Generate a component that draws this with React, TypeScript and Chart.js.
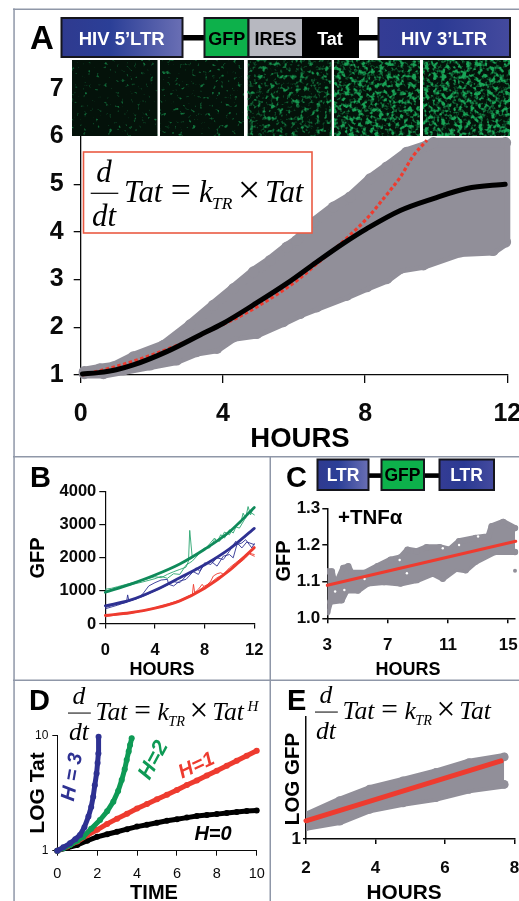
import React, { useEffect, useRef } from "react";
import { Chart, registerables } from "chart.js";
Chart.register(...registerables);

const SANS = '"Liberation Sans", Arial, sans-serif';
const SERIF = '"Liberation Serif", serif';
const GRAY = "#918f99";
const RED = "#ee3b2f";
const GREEN = "#0f8a5a";
const GREEN_THIN = "#2aa56f";
const GREEN_D = "#0e9a55";
const BLUE = "#2e3192";
const INK = "#0a0a0a";

// Panel A
const aBlackT = [0.05, 0.5, 1, 1.48, 2.42, 3.36, 4, 4.86, 5.8, 6.64, 7.39, 8.05, 8.99, 9.92, 10.86, 11.94];
const aBlackV = [1.02, 1.05, 1.11, 1.21, 1.49, 1.84, 2.08, 2.47, 2.92, 3.37, 3.76, 4.07, 4.45, 4.7, 4.91, 5.0];
const aRedT = [0.05, 1, 2, 3, 4, 4.4, 5.5, 6.2, 6.64, 7.11, 7.6, 8.05, 8.52, 8.99, 9.36, 9.74];
const aRedV = [1.0, 1.18, 1.42, 1.71, 2.06, 2.2, 2.68, 3.05, 3.33, 3.62, 3.95, 4.28, 4.7, 5.15, 5.6, 5.92];
const aUpT = [0.1, 0.54, 0.92, 1.48, 2.33, 3.08, 3.73, 4.3, 4.86, 5.33, 5.8, 6.08, 6.55, 7.11, 7.58, 8.14, 8.61, 9.17, 9.74, 9.92, 11.95];
const aUpV = [1.07, 1.13, 1.17, 1.38, 1.62, 2.05, 2.46, 2.81, 3.16, 3.4, 3.68, 3.82, 4.2, 4.52, 4.73, 5.11, 5.36, 5.67, 5.81, 5.87, 5.87];
const aLoT = [0.1, 0.64, 1.2, 1.95, 2.7, 3.26, 3.83, 4.3, 4.95, 5.7, 6.17, 6.64, 7.48, 8.05, 8.61, 8.99, 9.64, 10.67, 11.6, 11.95];
const aLoV = [1.03, 1.03, 1.105, 1.21, 1.315, 1.49, 1.56, 1.8, 1.87, 2.12, 2.29, 2.43, 2.67, 2.85, 3.02, 3.23, 3.31, 3.58, 3.61, 3.79];
const aEdgeT = [12.0, 12.0];
const aEdgeV = [3.79, 5.87];

// Panel B
const bFitT = [0, 2, 4, 6, 8, 10, 12];
const bGreenFit = [960, 1200, 1480, 1815, 2260, 2790, 3520];
const bBlueFit = [550, 720, 1020, 1400, 1790, 2270, 2890];
const bRedFit = [260, 340, 480, 700, 1080, 1620, 2310];
const bGreen1T = [0, 0.5, 1, 2, 3, 4, 4.5, 5, 5.5, 6, 6.5, 6.7, 6.8, 7, 7.2, 7.5, 8, 8.4, 8.8, 9, 9.3, 9.6, 10, 10.3, 10.6, 10.9, 11.1, 11.3, 11.5, 11.7, 11.9];
const bGreen1V = [1050, 1080, 1130, 1230, 1320, 1430, 1400, 1500, 1580, 1650, 1720, 1900, 2830, 2020, 2050, 2150, 2250, 2420, 2600, 2480, 2700, 2600, 2850, 2750, 3000, 3050, 3350, 3200, 3550, 3300, 3500];
const bGreen2T = [0, 0.5, 1, 2, 3, 4, 4.5, 5, 5.5, 6, 6.5, 7, 7.5, 8, 8.4, 8.8, 9.2, 9.6, 10, 10.4, 10.8, 11.2, 11.6, 12];
const bGreen2V = [1000, 1040, 1100, 1180, 1270, 1370, 1440, 1380, 1520, 1500, 1780, 1900, 2100, 2300, 2300, 2550, 2500, 2780, 2700, 2950, 2900, 3150, 3400, 3300];
const bBlue1T = [0, 1, 1.7, 1.8, 1.9, 2.5, 3, 3.5, 4, 4.5, 5, 5.1, 5.5, 6, 6.5, 7, 7.3, 7.6, 8, 8.5, 9, 9.5, 10, 10.3, 10.6, 11, 11.3, 11.6, 11.8, 12];
const bBlue1V = [500, 600, 650, 880, 700, 760, 900, 1150, 1250, 1330, 1350, 1200, 1150, 1300, 1350, 1550, 1700, 1600, 1800, 1900, 1750, 2050, 2100, 2000, 2400, 2450, 2550, 2400, 2300, 2430];
const bBlue2T = [0, 1, 2, 3, 4, 5, 5.5, 6, 6.5, 7, 7.5, 8, 8.5, 9, 9.5, 10, 10.5, 11, 11.4, 12];
const bBlue2V = [460, 570, 700, 830, 1000, 1180, 1280, 1250, 1450, 1600, 1500, 1850, 1800, 2000, 1950, 2200, 2500, 2300, 2480, 2400];
const bRed1T = [0, 1, 2, 3, 4, 5, 6, 6.8, 7, 7.1, 7.2, 7.5, 7.8, 8, 8.5, 8.7, 9, 9.3, 9.6, 10, 10.5, 11, 11.3, 11.6, 12];
const bRed1V = [220, 280, 320, 390, 470, 560, 680, 820, 850, 1200, 950, 1050, 1200, 1100, 1300, 1450, 1520, 1550, 1480, 1650, 1780, 1900, 2000, 2120, 2050];
const bRed2T = [0, 1, 2, 3, 4, 5, 6, 7, 7.5, 8, 8.5, 9, 9.5, 10, 10.5, 11, 11.5, 12];
const bRed2V = [270, 300, 340, 410, 490, 600, 720, 900, 1000, 1150, 1250, 1400, 1500, 1700, 1850, 2000, 2150, 2100];

// Panel C
const cTicksX = [3, 7, 11, 15];
const cUpT = [3, 3.3, 3.52, 4.06, 4.39, 4.6, 5.47, 6.33, 7.2, 7.85, 8.32, 8.93, 9.58, 10.45, 11.1, 11.74, 12.83, 13.69, 13.9, 14.67, 15.45];
const cUpV = [1.128, 1.128, 1.087, 1.137, 1.142, 1.124, 1.124, 1.142, 1.16, 1.166, 1.187, 1.183, 1.194, 1.194, 1.187, 1.21, 1.219, 1.224, 1.251, 1.263, 1.246];
const cLoT = [3, 3.19, 3.95, 4.28, 5.03, 5.68, 6.77, 7.85, 8.93, 10.01, 10.66, 11.53, 12.18, 12.83, 14.13, 15.45];
const cLoV = [1.017, 1.045, 1.049, 1.076, 1.076, 1.095, 1.099, 1.095, 1.104, 1.122, 1.108, 1.135, 1.131, 1.154, 1.181, 1.181];
const cStrayT = [15.45];
const cStrayV = [1.13];
const cGapT = [3.52, 4.13, 5.47, 7.8, 8.28, 10.66, 11.74, 13];
const cGapV = [1.073, 1.077, 1.107, 1.159, 1.123, 1.191, 1.2, 1.223];
const cRedT = [3, 15.5];
const cRedV = [1.09, 1.21];

// Panel D
const dBlackT = [0, 0.5, 1, 1.5, 2, 2.5, 3, 3.5, 4, 4.5, 5, 5.5, 6, 6.5, 7, 7.5, 8, 8.5, 9, 9.5, 10];
const dBlackV = [1, 1.06, 1.12, 1.22, 1.32, 1.39, 1.46, 1.54, 1.62, 1.68, 1.75, 1.82, 1.88, 1.94, 2.0, 2.04, 2.08, 2.13, 2.17, 2.21, 2.24];
const dRedT = [0, 0.5, 1, 1.5, 2, 2.5, 3, 3.5, 4, 4.5, 5, 5.5, 6, 6.5, 7, 7.5, 8, 8.5, 9, 9.5, 10];
const dRedV = [1, 1.09, 1.2, 1.36, 1.52, 1.71, 1.9, 2.1, 2.33, 2.55, 2.8, 3.07, 3.37, 3.72, 4.08, 4.5, 4.96, 5.48, 6.05, 6.7, 7.41];
const dGreenT = [0, 0.3, 0.64, 1, 1.3, 1.7, 2.14, 2.5, 2.81, 3.05, 3.23, 3.38, 3.48, 3.58, 3.65, 3.73];
const dGreenV = [1, 1.05, 1.12, 1.22, 1.32, 1.55, 1.85, 2.2, 2.67, 3.3, 4.11, 5.1, 6.14, 7.3, 8.3, 9.5];
const dBlueT = [0, 0.3, 0.64, 0.9, 1.14, 1.36, 1.56, 1.7, 1.8, 1.88, 1.97, 2.02, 2.06, 2.07];
const dBlueV = [1, 1.07, 1.16, 1.26, 1.37, 1.6, 1.98, 2.4, 2.95, 3.7, 4.7, 5.8, 7.0, 9.8];

// Panel E
const eUpT = [2, 2.97, 3.83, 4.79, 5.74, 6.69, 7.7];
const eUpV = [1.55, 2.06, 2.56, 3.0, 3.51, 4.23, 4.71];
const eLoT = [2, 2.97, 3.83, 4.79, 5.74, 6.69, 7.7];
const eLoV = [1.26, 1.4, 1.75, 1.98, 2.18, 2.55, 2.8];
const eRedT = [2, 7.61];
const eRedV = [1.41, 4.37];

const zip = (xs: number[], ys: number[]) => xs.map((x, i) => ({ x, y: ys[i] }));

const line = (xs: number[], ys: number[], color: string, width: number, extra: any = {}) => ({
  data: zip(xs, ys),
  borderColor: color,
  backgroundColor: color,
  borderWidth: width,
  pointRadius: 0,
  tension: 0,
  fill: false,
  borderCapStyle: "round",
  borderJoinStyle: "round",
  clip: false,
  ...extra,
});

const band = (upT: number[], upV: number[], loT: number[], loV: number[], width: number, radius: number, clip: any = false) => [
  line(upT, upV, GRAY, width, { pointRadius: radius, pointBorderWidth: 0, fill: { target: "+1" }, backgroundColor: GRAY, clip }),
  line(loT, loV, GRAY, width, { pointRadius: radius, pointBorderWidth: 0, clip }),
];

const dots = (xs: number[], ys: number[], color: string, width: number, radius: number) =>
  line(xs, ys, color, width, { pointRadius: radius, pointBorderWidth: 0, pointBackgroundColor: color });

type Axis = {
  type?: string; min: number; max: number; step?: number; ticks?: number[]; font: any; pad: number; len: number;
  lw: number; fmt?: (v: number) => string; hideFrom?: number;
};
type Panel = {
  box: [number, number, number, number]; plot: [number, number, number, number];
  x: Axis; y: Axis; datasets: any[];
};

const bold = (size: number) => ({ family: SANS, weight: "bold", size });
const plain = (size: number) => ({ family: SANS, weight: "normal", size });
const clipLeft = { left: 0, top: false, right: false, bottom: false };
const smooth = { cubicInterpolationMode: "monotone" };

const panels: Panel[] = [
  {
    box: [0, 60, 519, 380], plot: [80.7, 88.8, 507.3, 375],
    x: { min: 0, max: 12, step: 4, font: bold(25), pad: 16, len: 8, lw: 1.3 },
    y: { min: 1, max: 7, step: 1, font: bold(25), pad: 10, len: 7, lw: 1.3, hideFrom: 6 },
    datasets: [
      line(aBlackT, aBlackV, "#000", 5, smooth),
      line(aRedT, aRedV, RED, 3.2, { borderDash: [3.5, 2.5], borderCapStyle: "butt", ...smooth }),
      line(aEdgeT, aEdgeV, GRAY, 6, { borderCapStyle: "butt" }),
      ...band(aUpT, aUpV, aLoT, aLoV, 10, 5.6),
    ],
  },
  {
    box: [0, 480, 270, 190], plot: [105.3, 491.7, 254.3, 624],
    x: { min: 0, max: 12, step: 4, font: bold(16.5), pad: 12, len: 4.5, lw: 1.2 },
    y: { min: 0, max: 4000, step: 1000, font: bold(16.5), pad: 3, len: 6, lw: 1.2 },
    datasets: [
      line(bFitT, bRedFit, RED, 2.8, smooth),
      line(bFitT, bBlueFit, BLUE, 2.8, smooth),
      line(bFitT, bGreenFit, GREEN, 2.8, smooth),
      line(bRed1T, bRed1V, RED, 0.9),
      line(bRed2T, bRed2V, RED, 0.9),
      line(bBlue1T, bBlue1V, BLUE, 0.9),
      line(bBlue2T, bBlue2V, BLUE, 0.9),
      line(bGreen1T, bGreen1V, GREEN_THIN, 0.9),
      line(bGreen2T, bGreen2V, GREEN_THIN, 0.9),
    ],
  },
  {
    box: [272, 495, 247, 170], plot: [327.3, 508.3, 519, 618.3],
    x: { min: 3, max: 15.45, ticks: cTicksX, font: bold(17), pad: 12, len: 5, lw: 1.5 },
    y: { min: 1, max: 1.3, step: 0.1, font: bold(17), pad: 2, len: 5, lw: 1.5, fmt: (v) => v.toFixed(1) },
    datasets: [
      line(cRedT, cRedV, RED, 3),
      line(cGapT, cGapV, "#fff", 0, { pointRadius: 1.2, pointBorderWidth: 0, pointBackgroundColor: "#fff" }),
      line(cStrayT, cStrayV, GRAY, 0, { pointRadius: 2, pointBorderWidth: 0 }),
      ...band(cUpT, cUpV, cLoT, cLoV, 6, 3.2, clipLeft),
    ],
  },
  {
    box: [15, 725, 255, 160], plot: [57.3, 735.7, 256.7, 850.7],
    x: { min: 0, max: 10, step: 2, font: plain(14.5), pad: 10, len: 5, lw: 1 },
    y: { type: "logarithmic", min: 1, max: 10, ticks: [1, 10], font: plain(12), pad: 4, len: 5, lw: 1 },
    datasets: [
      dots(dBlueT, dBlueV, BLUE, 5, 3),
      dots(dGreenT, dGreenV, GREEN_D, 5, 3),
      dots(dRedT, dRedV, RED, 5, 3),
      dots(dBlackT, dBlackV, "#000", 5, 3),
    ],
  },
  {
    box: [272, 710, 247, 170], plot: [306, 717, 516, 839],
    x: { min: 2, max: 8, step: 2, font: bold(17), pad: 14, len: 5, lw: 1.5 },
    y: { type: "logarithmic", min: 1, max: 10, ticks: [1], font: bold(17), pad: 2, len: 3, lw: 1.5 },
    datasets: [
      line(eRedT, eRedV, RED, 5),
      ...band(eUpT, eUpV, eLoT, eLoV, 8, 4.4, clipLeft),
    ],
  },
];

const scaleOptions = (a: Axis, isX: boolean, panel: Panel) => {
  const [bl, bt, , bh] = panel.box;
  const [pl, , , pb] = panel.plot;
  return {
    type: a.type || "linear",
    position: isX ? "bottom" : "left",
    min: a.min,
    max: a.max,
    border: { color: INK, width: a.lw },
    grid: {
      drawOnChartArea: false,
      drawTicks: true,
      tickLength: a.len,
      lineWidth: a.lw,
      color: (c: any) => (a.hideFrom !== undefined && c.tick && c.tick.value >= a.hideFrom ? "rgba(0,0,0,0)" : INK),
    },
    ticks: {
      stepSize: a.step,
      autoSkip: false,
      maxRotation: 0,
      minRotation: 0,
      color: INK,
      font: a.font,
      padding: a.pad,
      callback: (v: number) => (a.fmt ? a.fmt(v) : String(v)),
    },
    afterBuildTicks: a.ticks ? (s: any) => { s.ticks = a.ticks!.map((value) => ({ value })); } : undefined,
    afterFit: (s: any) => {
      if (isX) s.height = bt + bh - pb; else s.width = pl - bl;
      s.paddingLeft = s.paddingRight = s.paddingTop = s.paddingBottom = 0;
    },
  };
};

// Fluorescence texture of the micrographs: [left, right, noise gain, noise offset, seed, opacity]
const micrographs = [
  [72, 157.5, 6, -3.96, 3, 0.6],
  [160, 244, 6, -3.8, 8, 0.62],
  [247.7, 331.7, 4, -2.05, 14, 0.85],
  [334, 420, 4.5, -2.05, 21, 0.92],
  [423, 510, 4.5, -2.0, 29, 0.95],
];

const T = (p: any) => {
  const { x, y, s, c = "#000", a = "start", w = "bold", rot, st, f = SANS, children } = p;
  return (
    <text x={x} y={y} fontSize={s} fill={c} textAnchor={a} fontWeight={w} fontStyle={st} fontFamily={f}
      transform={rot !== undefined ? `rotate(${rot} ${x} ${y})` : undefined}>{children}</text>
  );
};

const Eq = ({ x, y, size, exp }: { x: number; y: number; size: number; exp?: string }) => {
  const k = size / 29.5;
  const g = size * 1.05;
  const tx = (o: number) => x + o * k;
  const It = (o: number, dy: number, t: string, s = g, a = "start") => (
    <T x={tx(o)} y={y + dy * k} s={s} w="normal" st="italic" f={SERIF} a={a}>{t}</T>
  );
  return (
    <g>
      {It(13.3, -19.7, "d", g, "middle")}
      <rect x={x} y={y - 9 * k} width={27.6 * k} height={Math.max(1, 1.2 * k)} fill="#000" />
      {It(13.3, 24.3, "dt", g, "middle")}
      {It(33.3, 0, "Tat")}
      <T x={tx(80)} y={y} s={g * 1.15} w="normal" f={SERIF}>=</T>
      {It(108.3, 0, "k")}
      {It(121.3, 7.3, "TR", size * 0.59)}
      <T x={tx(147)} y={y + 1.5 * k} s={g * 1.3} w="normal" f={SERIF}>×</T>
      {It(174.3, 0, "Tat")}
      {exp ? It(217, -11, exp, size * 0.62) : null}
    </g>
  );
};

const Block = ({ x, w, y, h, fill, stroke = "#15151c", sw = 2 }: any) => (
  <rect x={x} y={y} width={w} height={h} fill={fill} stroke={stroke} strokeWidth={sw} />
);

const FRAME = "#8f97a8";

export default function App() {
  const refs = useRef<(HTMLCanvasElement | null)[]>([]);

  useEffect(() => {
    const charts = panels.map((p, i) => {
      const [bl, bt, bw] = p.box;
      const [, pt, pr] = p.plot;
      return new Chart(refs.current[i] as HTMLCanvasElement, {
        type: "line",
        data: { datasets: p.datasets },
        options: {
          animation: false,
          responsive: false,
          layout: { padding: { left: 0, bottom: 0, top: pt - bt, right: bl + bw - pr } },
          plugins: { legend: { display: false }, title: { display: false }, tooltip: { enabled: false } },
          scales: { x: scaleOptions(p.x, true, p), y: scaleOptions(p.y, false, p) },
        } as any,
      } as any);
    });
    return () => charts.forEach((c) => c.destroy());
  }, []);

  return (
    <div style={{ position: "absolute", left: 0, top: 0, width: 519, height: 901, overflow: "hidden", background: "#fff" }}>
      {panels.map((p, i) => (
        <canvas key={i} ref={(el) => { refs.current[i] = el; }} width={p.box[2]} height={p.box[3]}
          style={{ position: "absolute", left: p.box[0], top: p.box[1], width: p.box[2], height: p.box[3] }} />
      ))}
      <svg width={519} height={901} style={{ position: "absolute", left: 0, top: 0, pointerEvents: "none" }}>
        <defs>
          <linearGradient id="ltrA" x1="0" x2="1" y1="0" y2="0">
            <stop offset="0" stopColor="#2f3a8f" /><stop offset="0.4" stopColor="#2b3f97" /><stop offset="1" stopColor="#6a6fb4" />
          </linearGradient>
          <linearGradient id="ltrB" x1="0" x2="1" y1="0" y2="0">
            <stop offset="0" stopColor="#343c94" /><stop offset="0.45" stopColor="#2b3a93" /><stop offset="1" stopColor="#444a9e" />
          </linearGradient>
          {micrographs.map(([, , gain, off, seed], i) => (
            <filter key={i} id={`cells${i}`} x="0" y="0" width="1" height="1" colorInterpolationFilters="sRGB">
              <feTurbulence type="fractalNoise" baseFrequency="0.24" numOctaves={2} seed={seed} />
              <feColorMatrix type="matrix" values={`0 0 0 0 0.1  0 0 0 0 0.68  0 0 0 0 0.36  ${gain} 0 0 0 ${off}`} />
              <feGaussianBlur stdDeviation="0.5" />
            </filter>
          ))}
        </defs>

        {/* micrographs */}
        {micrographs.map(([l, r, , , , op], i) => (
          <g key={i}>
            <rect x={l} y={60} width={r - l} height={76} fill="#04120a" />
            <rect x={l} y={60} width={r - l} height={76} fill="#000" opacity={op} filter={`url(#cells${i})`} />
          </g>
        ))}

        {/* frames */}
        <rect x={13} y={8.5} width={506} height={1.5} fill={FRAME} />
        <rect x={13.3} y={8.5} width={1.5} height={892.5} fill={FRAME} />
        <rect x={13} y={456} width={506} height={1.5} fill={FRAME} />
        <rect x={269.5} y={456} width={1.5} height={445} fill={FRAME} />
        <rect x={13} y={679.5} width={506} height={1.5} fill={FRAME} />

        {/* panel A gene diagram */}
        <rect x={182} y={35} width={198} height={5.5} fill="#000" />
        <Block x={61.5} w={121} y={18} h={39} fill="url(#ltrA)" />
        <Block x={204.5} w={44} y={18} h={39} fill="#0db14b" />
        <Block x={248.5} w={54.5} y={18} h={39} fill="#b7b8c0" />
        <Block x={303} w={55} y={18} h={39} fill="#000" stroke="#000" />
        <Block x={378.5} w={131.5} y={18} h={39} fill="url(#ltrB)" />
        <T x={121.7} y={44.5} s={18.5} c="#fff" a="middle">HIV 5’LTR</T>
        <T x={226.7} y={44.5} s={18} a="middle">GFP</T>
        <T x={275.5} y={44.5} s={18} a="middle">IRES</T>
        <T x={330} y={44.5} s={18} c="#fff" a="middle">Tat</T>
        <T x={444} y={44.5} s={18.5} c="#fff" a="middle">HIV 3’LTR</T>
        <T x={30} y={49} s={33}>A</T>

        {/* panel A equation */}
        <rect x={83.5} y={152} width={228.5} height={81} fill="#fff" stroke="#ea5a43" strokeWidth={1.6} />
        <Eq x={90.7} y={201.7} size={29.5} />
        <T x={300} y={446.5} s={27.5} a="middle">HOURS</T>

        {/* panel B */}
        <T x={30} y={487} s={29}>B</T>
        <T x={162} y={675} s={18} a="middle">HOURS</T>
        <T x={44} y={558} s={20} a="middle" rot={-90}>GFP</T>

        {/* panel C */}
        <rect x={368} y={473.3} width={72} height={4.6} fill="#000" />
        <Block x={317.5} w={51} y={459.5} h={30.5} fill="url(#ltrA)" />
        <Block x={381.5} w={42.5} y={459.5} h={30.5} fill="#0db14b" />
        <Block x={439.5} w={54.5} y={459.5} h={30.5} fill="url(#ltrB)" />
        <T x={343} y={481} s={17.5} c="#fff" a="middle">LTR</T>
        <T x={402.5} y={481} s={17.5} a="middle">GFP</T>
        <T x={466.5} y={481} s={17.5} c="#fff" a="middle">LTR</T>
        <T x={286} y={487} s={29}>C</T>
        <T x={338} y={523.5} s={20.5}>+TNFα</T>
        <T x={408} y={675} s={18} a="middle">HOURS</T>
        <T x={289.5} y={561} s={20} a="middle" rot={-90}>GFP</T>

        {/* panel D */}
        <T x={29} y={710} s={29}>D</T>
        <Eq x={68} y={720} size={24.4} exp="H" />
        <T x={44} y={793} s={21} a="middle" rot={-90}>LOG Tat</T>
        <T x={154} y={899} s={20} a="middle">TIME</T>
        <T x={78} y={778} s={20} a="middle" st="italic" c={BLUE} rot={-80}>H = 3</T>
        <T x={159} y={763} s={21.5} a="middle" st="italic" c={GREEN_D} rot={-62}>H=2</T>
        <T x={199} y={771} s={20} a="middle" st="italic" c={RED} rot={-25}>H=1</T>
        <T x={213} y={840} s={20} a="middle" st="italic">H=0</T>

        {/* panel E */}
        <T x={287} y={710} s={29}>E</T>
        <Eq x={315} y={719} size={24.4} />
        <T x={298.5} y={779} s={20.5} a="middle" rot={-90}>LOG GFP</T>
        <T x={404} y={899} s={20.8} a="middle">HOURS</T>
      </svg>
    </div>
  );
}
